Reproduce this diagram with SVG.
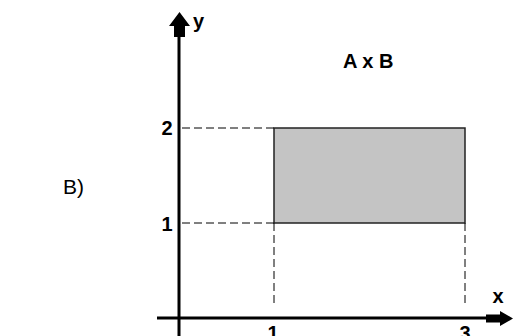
<svg xmlns="http://www.w3.org/2000/svg" width="518" height="336" viewBox="0 0 518 336">
<style>
.t{font-family:"Liberation Sans",Arial,sans-serif;fill:#000}
.b{font-weight:bold}
.ax{stroke:#000;stroke-width:3;fill:none}
.d{stroke:#000;stroke-width:1;stroke-dasharray:8 4;fill:none}
</style>
<rect width="518" height="336" fill="#fff"/>
<g id="region">
<rect x="274" y="128" width="191" height="95" fill="#c4c4c4" stroke="#222" stroke-width="1.5"/>
</g>
<g id="connectors">
<line class="d" x1="182" y1="128" x2="274" y2="128"/>
<line class="d" x1="182" y1="223" x2="274" y2="223"/>
<line class="d" x1="274" y1="223" x2="274" y2="306"/>
<line class="d" x1="465" y1="223" x2="465" y2="306"/>
</g>
<g id="y-axis">
<line class="ax" x1="179" y1="34" x2="179" y2="336"/>
<polygon points="179.5,12 190,26 185,26 185,37 174,37 174,26 169,26" fill="#000"/>
<text class="t b" x="193" y="28" font-size="20">y</text>
</g>
<g id="x-axis">
<line class="ax" x1="157" y1="318" x2="490" y2="318"/>
<polygon points="513,318.5 500,311 500,314.5 486,314.5 486,322.5 500,322.5 500,326" fill="#000"/>
<text class="t b" x="498" y="303" font-size="20" text-anchor="middle">x</text>
</g>
<g id="labels">
<text class="t b" x="167" y="135" font-size="20" text-anchor="middle">2</text>
<text class="t b" x="167" y="231" font-size="20" text-anchor="middle">1</text>
<text class="t b" x="273" y="340" font-size="20" text-anchor="middle">1</text>
<text class="t b" x="465" y="340" font-size="20" text-anchor="middle">3</text>
<text class="t b" x="343" y="68" font-size="20">A x B</text>
<text class="t" x="63" y="194" font-size="21">B)</text>
</g>
</svg>
